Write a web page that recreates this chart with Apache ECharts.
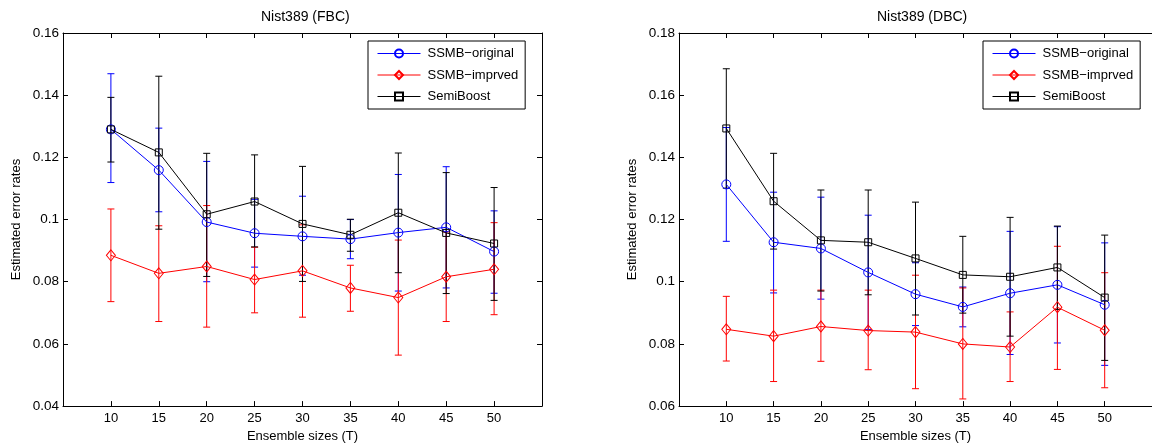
<html>
<head>
  <meta charset="utf-8">
  <style>
    html, body { margin: 0; padding: 0; background: #fff; }
    #container { width: 1152px; height: 448px; }
  </style>
</head>
<body>
<div id="container"></div>
<script type="text/javascript" src="https://fastly.jsdelivr.net/npm/echarts@6.0.0/dist/echarts.min.js"></script>
<script type="text/javascript">
  var dom = document.getElementById('container');
  var myChart = echarts.init(dom, null, { renderer: 'canvas' });

  const sizes = [10, 15, 20, 25, 30, 35, 40, 45, 50];
  const names = ['SSMB−original', 'SSMB−imprved', 'SemiBoost'];

  // Nist389 (FBC)
  const fbcOrig   = [0.1290, 0.1159, 0.0992, 0.0956, 0.0946, 0.0937, 0.0958, 0.0975, 0.0897];
  const fbcOrigLo = [0.1119, 0.1025, 0.0800, 0.0847, 0.0821, 0.0874, 0.0770, 0.0780, 0.0763];
  const fbcOrigHi = [0.1469, 0.1294, 0.1187, 0.1065, 0.1075, 0.1000, 0.1145, 0.1170, 0.1028];
  const fbcImp    = [0.0885, 0.0827, 0.0849, 0.0807, 0.0835, 0.0780, 0.0749, 0.0816, 0.0840];
  const fbcImpLo  = [0.0736, 0.0672, 0.0654, 0.0700, 0.0686, 0.0705, 0.0564, 0.0672, 0.0694];
  const fbcImpHi  = [0.1034, 0.0980, 0.1045, 0.0911, 0.0983, 0.0853, 0.0934, 0.0960, 0.0990];
  const fbcSemi   = [0.1290, 0.1216, 0.1017, 0.1058, 0.0986, 0.0951, 0.1022, 0.0957, 0.0923];
  const fbcSemiLo = [0.1185, 0.0969, 0.0817, 0.0912, 0.0801, 0.0898, 0.0829, 0.0762, 0.0740];
  const fbcSemiHi = [0.1393, 0.1461, 0.1213, 0.1208, 0.1171, 0.1001, 0.1214, 0.1151, 0.1103];

  // Nist389 (DBC)
  const dbcOrig   = [0.1313, 0.1127, 0.1107, 0.1030, 0.0960, 0.0919, 0.0963, 0.0990, 0.0926];
  const dbcOrigLo = [0.1130, 0.0964, 0.0944, 0.0846, 0.0859, 0.0855, 0.0766, 0.0803, 0.0731];
  const dbcOrigHi = [0.1496, 0.1288, 0.1272, 0.1214, 0.1061, 0.0983, 0.1162, 0.1177, 0.1125];
  const dbcImp    = [0.0847, 0.0825, 0.0856, 0.0843, 0.0838, 0.0800, 0.0790, 0.0918, 0.0844];
  const dbcImpLo  = [0.0745, 0.0679, 0.0744, 0.0717, 0.0656, 0.0623, 0.0679, 0.0718, 0.0659];
  const dbcImpHi  = [0.0953, 0.0973, 0.0973, 0.0973, 0.1021, 0.0980, 0.0903, 0.1114, 0.1029];
  const dbcSemi   = [0.1493, 0.1259, 0.1133, 0.1127, 0.1075, 0.1022, 0.1016, 0.1046, 0.0949];
  const dbcSemiLo = [0.1301, 0.1105, 0.0970, 0.0958, 0.0893, 0.0899, 0.0825, 0.0911, 0.0747];
  const dbcSemiHi = [0.1685, 0.1413, 0.1295, 0.1295, 0.1256, 0.1146, 0.1207, 0.1179, 0.1150];

  const font = 'Liberation Sans, Arial, Helvetica, sans-serif';
  const colors = ['#0000ff', '#ff0000', '#000000'];
  const symbols = [['circle', 9], ['diamond', [9, 11]], ['rect', 7]];

  function errSeries(gi, color, lo, hi) {
    return {
      type: 'custom',
      name: 'err',
      xAxisIndex: gi,
      yAxisIndex: gi,
      silent: true,
      data: sizes.map((x, i) => [x, lo[i], hi[i]]),
      encode: { x: 0, y: [1, 2] },
      renderItem: function (params, api) {
        var x = api.value(0);
        var a = api.coord([x, api.value(1)]);
        var b = api.coord([x, api.value(2)]);
        var w = 3.5;
        var st = { stroke: color, lineWidth: 1 };
        return {
          type: 'group',
          children: [
            { type: 'line', shape: { x1: a[0], y1: a[1], x2: b[0], y2: b[1] }, style: st },
            { type: 'line', shape: { x1: a[0] - w, y1: a[1], x2: a[0] + w, y2: a[1] }, style: st },
            { type: 'line', shape: { x1: b[0] - w, y1: b[1], x2: b[0] + w, y2: b[1] }, style: st }
          ]
        };
      }
    };
  }

  function lineSeries(gi, k, vals) {
    return {
      type: 'line',
      name: names[k],
      xAxisIndex: gi,
      yAxisIndex: gi,
      data: sizes.map((x, i) => [x, vals[i]]),
      symbol: symbols[k][0],
      symbolSize: symbols[k][1],
      showAllSymbol: true,
      lineStyle: { color: colors[k], width: 1 },
      itemStyle: { color: 'rgba(255,255,255,0)', borderColor: colors[k], borderWidth: 1 },
      emphasis: { disabled: true }
    };
  }

  const panels = [
    [[fbcOrig, fbcOrigLo, fbcOrigHi], [fbcImp, fbcImpLo, fbcImpHi], [fbcSemi, fbcSemiLo, fbcSemiHi]],
    [[dbcOrig, dbcOrigLo, dbcOrigHi], [dbcImp, dbcImpLo, dbcImpHi], [dbcSemi, dbcSemiLo, dbcSemiHi]]
  ];
  const yRanges = [[0.04, 0.16], [0.06, 0.18]];
  const grids = [
    { left: 63, top: 33, width: 479, height: 377 },
    { left: 679, top: 33, width: 478, height: 377 }
  ];

  let series = [];
  panels.forEach((p, gi) => {
    p.forEach((s, k) => {
      series.push(errSeries(gi, colors[k], s[1], s[2]));
      series.push(lineSeries(gi, k, s[0]));
    });
  });

  const axLine = { show: true, lineStyle: { color: '#000', width: 1 } };
  const tick = { show: true, inside: true, length: 5, lineStyle: { color: '#000' } };
  const tickVals = sizes;

  let xAxis = [], yAxis = [];
  [0, 1].forEach((gi) => {
    xAxis.push({
      type: 'value', gridIndex: gi, position: 'bottom', min: 5, max: 55, interval: 5,
      name: 'Ensemble sizes (T)', nameLocation: 'middle', nameGap: 20,
      nameTextStyle: { color: '#000', fontSize: 13, fontFamily: font },
      axisLine: axLine,
      axisTick: Object.assign({ customValues: tickVals }, tick),
      axisLabel: { customValues: tickVals, color: '#000', fontSize: 13, fontFamily: font, margin: 6 },
      splitLine: { show: false }
    });
    yAxis.push({
      type: 'value', gridIndex: gi, position: 'left', min: yRanges[gi][0], max: yRanges[gi][1], interval: 0.02,
      name: 'Estimated error rates', nameLocation: 'middle', nameGap: 40,
      nameTextStyle: { color: '#000', fontSize: 13, fontFamily: font },
      axisLine: axLine, axisTick: tick,
      axisLabel: { color: '#000', fontSize: 13.5, fontFamily: font, margin: 4,
        formatter: (v) => String(parseFloat(v.toFixed(2))) },
      splitLine: { show: false }
    });
  });
  [0, 1].forEach((gi) => {
    xAxis.push({
      type: 'value', gridIndex: gi, position: 'top', min: 5, max: 55, interval: 5,
      axisLine: axLine,
      axisTick: Object.assign({ customValues: tickVals }, tick),
      axisLabel: { show: false }, splitLine: { show: false }
    });
    yAxis.push({
      type: 'value', gridIndex: gi, position: 'right', min: yRanges[gi][0], max: yRanges[gi][1], interval: 0.02,
      axisLine: axLine, axisTick: gi === 0 ? tick : { show: false },
      axisLabel: { show: false }, splitLine: { show: false }
    });
  });

  const legendBase = {
    orient: 'vertical', top: 41, data: names,
    backgroundColor: '#fff', borderColor: '#000', borderWidth: 1, borderRadius: 0,
    padding: [6, 7, 6, 9], itemWidth: 43, itemHeight: 10, itemGap: 8.5,
    selectedMode: false,
    lineStyle: { width: 1 },
    textStyle: { color: '#000', fontSize: 13, fontFamily: font, padding: [0, 0, 0, 2] }
  };

  const option = {
    animation: false,
    backgroundColor: '#fff',
    title: [
      { text: 'Nist389 (FBC)', left: 256, top: 5, textStyle: { color: '#000', fontSize: 14, fontWeight: 'normal', fontFamily: font } },
      { text: 'Nist389 (DBC)', left: 872, top: 5, textStyle: { color: '#000', fontSize: 14, fontWeight: 'normal', fontFamily: font } }
    ],
    legend: [
      Object.assign({ left: 368 }, legendBase),
      Object.assign({ left: 983 }, legendBase)
    ],
    grid: grids,
    xAxis: xAxis,
    yAxis: yAxis,
    series: series
  };

  myChart.setOption(option);
</script>
</body>
</html>
